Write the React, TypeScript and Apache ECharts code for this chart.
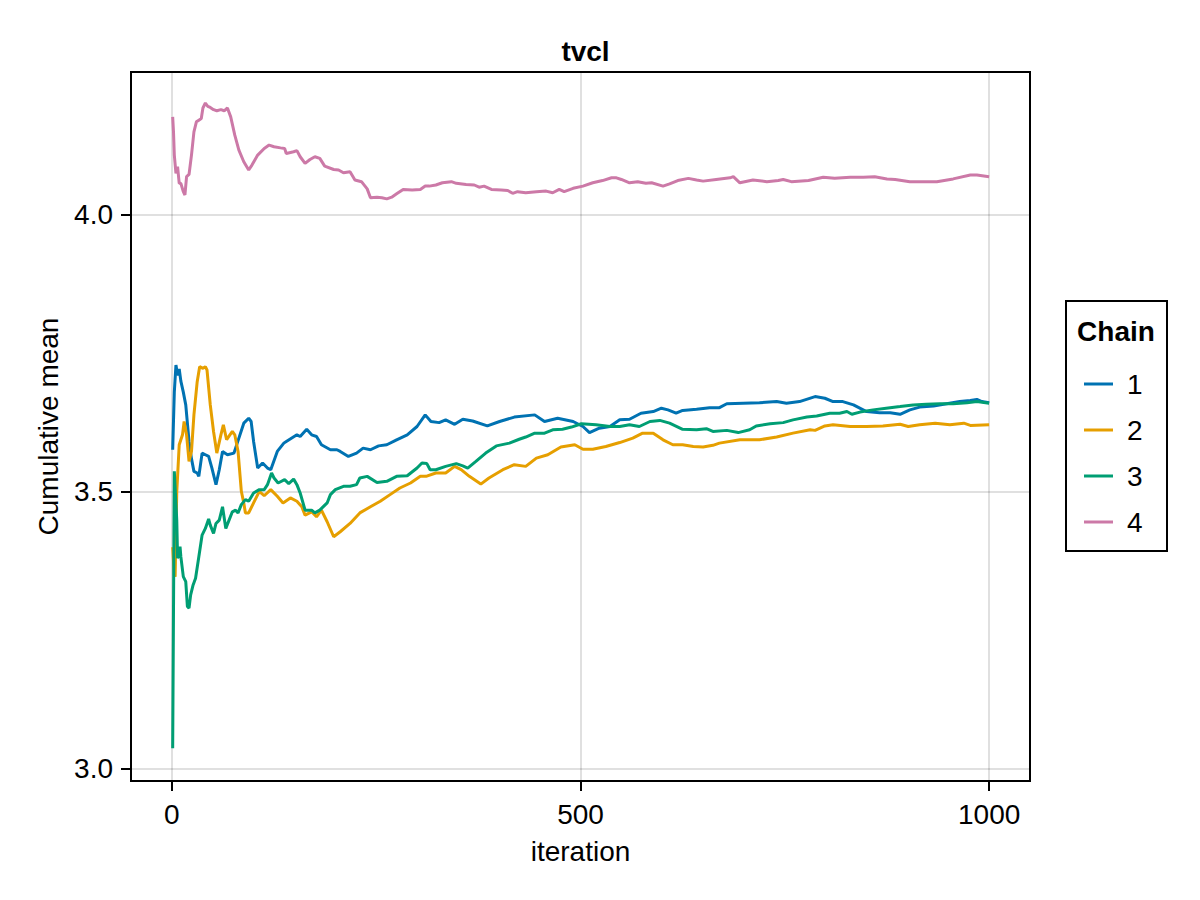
import React, { useEffect, useRef } from 'react'
import * as echarts from 'echarts'

const FONT = '"Liberation Sans", Arial, Helvetica, sans-serif'

const chainNames = ['1', '2', '3', '4']
const chainColors = ['#0072B2', '#E69F00', '#009E73', '#CC79A7']
const xTicks = [0, 500, 1000]
const yTicks = [3.0, 3.5, 4.0]

// [iteration, cumulative mean]
const chain1 = [
  [1, 3.576], [3, 3.68], [5, 3.729], [6, 3.72], [7, 3.722], [8, 3.71], [9, 3.722], [11, 3.70], [14, 3.68],
  [17, 3.657], [21, 3.591], [24, 3.56], [27, 3.537], [31, 3.534], [33, 3.528], [37, 3.570], [41, 3.567],
  [45, 3.564], [49, 3.543], [54, 3.513], [58, 3.540], [62, 3.573], [68, 3.567], [76, 3.570], [80, 3.588],
  [88, 3.624], [94, 3.633], [97, 3.627], [100, 3.591], [105, 3.543], [111, 3.552], [117, 3.543], [121, 3.540],
  [129, 3.573], [137, 3.588], [140, 3.591], [153, 3.603], [157, 3.600], [165, 3.613], [171, 3.603], [177, 3.600],
  [183, 3.585], [194, 3.576], [202, 3.576], [206, 3.573], [216, 3.564], [226, 3.570], [234, 3.579], [243, 3.576],
  [253, 3.583], [263, 3.585], [275, 3.594], [288, 3.603], [300, 3.618], [310, 3.639], [317, 3.627], [327, 3.625],
  [335, 3.630], [346, 3.622], [356, 3.631], [368, 3.628], [386, 3.619], [401, 3.627], [419, 3.635], [444, 3.639],
  [456, 3.627], [472, 3.633], [491, 3.627], [503, 3.618], [511, 3.607], [523, 3.615], [536, 3.618], [548, 3.630],
  [560, 3.631], [574, 3.642], [589, 3.645], [599, 3.651], [607, 3.648], [617, 3.642], [625, 3.647], [642, 3.649],
  [658, 3.652], [670, 3.652], [679, 3.659], [699, 3.660], [719, 3.661], [740, 3.663], [752, 3.660], [768, 3.663],
  [787, 3.672], [799, 3.669], [809, 3.663], [821, 3.663], [834, 3.657], [850, 3.645], [866, 3.643], [879, 3.643],
  [891, 3.640], [903, 3.648], [915, 3.653], [932, 3.655], [948, 3.659], [964, 3.663], [977, 3.665], [985, 3.667],
  [991, 3.663], [1000, 3.661],
]

const chain2 = [
  [1, 3.40], [3, 3.35], [4, 3.347], [6, 3.50], [9, 3.585], [13, 3.603], [15, 3.627], [18, 3.603], [21, 3.555],
  [24, 3.573], [27, 3.639], [31, 3.699], [34, 3.726], [38, 3.723], [41, 3.726], [43, 3.720], [47, 3.657],
  [51, 3.609], [55, 3.570], [60, 3.603], [63, 3.621], [67, 3.594], [71, 3.603], [74, 3.609], [77, 3.603],
  [81, 3.573], [85, 3.501], [88, 3.480], [90, 3.462], [94, 3.462], [100, 3.480], [107, 3.501], [113, 3.493],
  [121, 3.504], [129, 3.492], [136, 3.480], [145, 3.489], [153, 3.483], [159, 3.473], [163, 3.458], [171, 3.464],
  [177, 3.455], [183, 3.467], [190, 3.446], [198, 3.419], [206, 3.428], [218, 3.443], [230, 3.462], [243, 3.473],
  [255, 3.483], [267, 3.495], [279, 3.507], [292, 3.516], [304, 3.528], [311, 3.528], [323, 3.534], [335, 3.534],
  [346, 3.546], [354, 3.540], [364, 3.528], [378, 3.514], [388, 3.525], [405, 3.540], [419, 3.549], [433, 3.546],
  [446, 3.561], [460, 3.567], [476, 3.581], [493, 3.585], [503, 3.577], [515, 3.577], [531, 3.582], [548, 3.589],
  [564, 3.597], [576, 3.606], [589, 3.606], [601, 3.594], [613, 3.585], [625, 3.585], [638, 3.582], [650, 3.581],
  [662, 3.584], [670, 3.588], [695, 3.594], [719, 3.594], [740, 3.599], [760, 3.606], [781, 3.612], [787, 3.611],
  [799, 3.619], [809, 3.621], [830, 3.618], [850, 3.618], [870, 3.619], [891, 3.622], [901, 3.618], [915, 3.621],
  [934, 3.624], [952, 3.621], [969, 3.624], [977, 3.620], [1000, 3.621],
]

const chain3 = [
  [1, 3.037], [3, 3.537], [6, 3.449], [7, 3.380], [10, 3.401], [11, 3.383], [14, 3.347], [17, 3.338], [19, 3.293],
  [21, 3.290], [23, 3.314], [26, 3.332], [29, 3.344], [33, 3.383], [37, 3.422], [41, 3.434], [45, 3.451],
  [47, 3.440], [51, 3.425], [54, 3.443], [58, 3.449], [62, 3.473], [66, 3.434], [70, 3.449], [74, 3.464],
  [78, 3.467], [81, 3.462], [85, 3.477], [90, 3.486], [94, 3.483], [100, 3.498], [107, 3.504], [113, 3.504],
  [117, 3.513], [122, 3.534], [125, 3.525], [130, 3.516], [138, 3.522], [143, 3.515], [149, 3.523], [153, 3.513],
  [157, 3.498], [163, 3.467], [171, 3.467], [175, 3.462], [181, 3.467], [190, 3.480], [194, 3.495], [200, 3.504],
  [210, 3.510], [218, 3.510], [226, 3.513], [230, 3.525], [239, 3.528], [251, 3.517], [263, 3.519], [275, 3.528],
  [288, 3.529], [300, 3.543], [306, 3.552], [312, 3.551], [316, 3.540], [323, 3.540], [335, 3.546], [348, 3.551],
  [356, 3.547], [362, 3.543], [372, 3.555], [384, 3.570], [397, 3.583], [413, 3.588], [425, 3.595], [433, 3.599],
  [444, 3.606], [456, 3.606], [466, 3.612], [478, 3.613], [489, 3.617], [501, 3.623], [519, 3.621], [536, 3.618],
  [548, 3.618], [560, 3.621], [572, 3.618], [585, 3.627], [597, 3.629], [609, 3.624], [625, 3.613], [642, 3.612],
  [654, 3.614], [662, 3.609], [679, 3.611], [693, 3.607], [707, 3.612], [715, 3.619], [732, 3.623], [748, 3.625],
  [760, 3.630], [777, 3.635], [789, 3.637], [805, 3.642], [817, 3.642], [826, 3.645], [832, 3.640], [842, 3.644],
  [858, 3.648], [874, 3.651], [891, 3.654], [907, 3.657], [923, 3.658], [940, 3.659], [956, 3.659], [973, 3.661],
  [985, 3.663], [1000, 3.660],
]

const chain4 = [
  [1, 4.177], [2, 4.150], [3, 4.108], [5, 4.075], [7, 4.087], [9, 4.057], [11, 4.057], [14, 4.042], [16, 4.036],
  [18, 4.069], [21, 4.073], [24, 4.108], [27, 4.150], [30, 4.168], [33, 4.171], [36, 4.174], [38, 4.193],
  [41, 4.202], [44, 4.196], [47, 4.194], [51, 4.190], [55, 4.188], [60, 4.190], [64, 4.188], [68, 4.193],
  [72, 4.177], [77, 4.144], [82, 4.117], [88, 4.096], [94, 4.081], [98, 4.090], [105, 4.108], [113, 4.120],
  [119, 4.126], [125, 4.123], [133, 4.121], [138, 4.120], [140, 4.111], [149, 4.114], [153, 4.116], [157, 4.105],
  [163, 4.093], [169, 4.100], [175, 4.105], [181, 4.102], [187, 4.088], [198, 4.082], [204, 4.081], [210, 4.076],
  [218, 4.078], [224, 4.063], [232, 4.060], [239, 4.047], [243, 4.031], [251, 4.032], [257, 4.031], [263, 4.029],
  [269, 4.032], [275, 4.038], [283, 4.046], [294, 4.045], [304, 4.046], [310, 4.052], [315, 4.052], [323, 4.054],
  [331, 4.058], [342, 4.060], [348, 4.057], [360, 4.055], [370, 4.054], [376, 4.050], [382, 4.052], [391, 4.046],
  [403, 4.045], [411, 4.044], [417, 4.039], [423, 4.042], [433, 4.040], [446, 4.042], [458, 4.043], [466, 4.040],
  [474, 4.046], [480, 4.042], [491, 4.048], [503, 4.052], [515, 4.058], [527, 4.062], [538, 4.067], [544, 4.067],
  [550, 4.064], [560, 4.058], [570, 4.060], [580, 4.057], [587, 4.058], [601, 4.052], [609, 4.056], [619, 4.062],
  [632, 4.066], [642, 4.063], [650, 4.061], [666, 4.064], [683, 4.067], [687, 4.069], [695, 4.058], [711, 4.063],
  [728, 4.060], [742, 4.062], [748, 4.064], [758, 4.060], [779, 4.062], [797, 4.068], [811, 4.066], [830, 4.068],
  [846, 4.068], [860, 4.069], [875, 4.065], [885, 4.064], [903, 4.060], [919, 4.060], [936, 4.060], [956, 4.065],
  [977, 4.072], [985, 4.072], [1000, 4.069],
]

const chains = [chain1, chain2, chain3, chain4]

const App: React.FC = () => {
  const chartRef = useRef<HTMLDivElement | null>(null)

  useEffect(() => {
    document.body.style.margin = '0'
    if (!chartRef.current) return
    const chart = echarts.init(chartRef.current, null, { renderer: 'svg' })

    const axisCommon = {
      axisLine: { show: true, onZero: false, lineStyle: { color: '#000', width: 2 } },
      axisTick: { show: true, length: 10, lineStyle: { color: '#000', width: 2 } },
      splitLine: { show: true, lineStyle: { color: 'rgba(0,0,0,0.12)', width: 2 } },
      nameLocation: 'middle' as const,
      nameTextStyle: { fontSize: 28, color: '#000', fontFamily: FONT },
    }

    chart.setOption({
      animation: false,
      backgroundColor: '#fff',
      title: {
        text: 'tvcl',
        left: 580.5,
        top: 32,
        textAlign: 'center',
        textStyle: { fontSize: 28, fontWeight: 'bold', color: '#000', fontFamily: FONT },
      },
      grid: {
        left: 131, top: 72, width: 899, height: 709,
        show: true, borderColor: '#000', borderWidth: 2, backgroundColor: 'transparent',
      },
      xAxis: {
        ...axisCommon,
        type: 'value',
        min: -50,
        max: 1050,
        name: 'iteration',
        nameGap: 56,
        axisTick: { ...axisCommon.axisTick, customValues: xTicks },
        axisLabel: {
          customValues: xTicks, fontSize: 28, color: '#000', fontFamily: FONT, margin: 19,
          formatter: (v: number) => String(v),
        },
      },
      yAxis: {
        ...axisCommon,
        type: 'value',
        min: 2.978,
        max: 4.258,
        name: 'Cumulative mean',
        nameGap: 69,
        axisTick: { ...axisCommon.axisTick, customValues: yTicks },
        axisLabel: {
          customValues: yTicks, fontSize: 28, color: '#000', fontFamily: FONT, margin: 18,
          formatter: (v: number) => v.toFixed(1),
        },
      },
      legend: {
        orient: 'vertical',
        left: 1079,
        top: 365,
        icon: 'rect',
        itemWidth: 29,
        itemHeight: 3,
        itemGap: 18,
        textStyle: { fontSize: 28, lineHeight: 28, color: '#000', fontFamily: FONT, padding: [0, 0, 0, 9] },
        data: chainNames,
      },
      graphic: [
        {
          type: 'rect',
          shape: { x: 1066, y: 301, width: 101, height: 250 },
          style: { fill: 'transparent', stroke: '#000', lineWidth: 2 },
        },
        {
          type: 'text',
          x: 1116,
          y: 331,
          style: {
            text: 'Chain', fontSize: 28, fontWeight: 'bold', fill: '#000', fontFamily: FONT,
            textAlign: 'center', textVerticalAlign: 'middle',
          },
        },
      ],
      series: chains.map((d, i) => ({
        name: chainNames[i],
        type: 'line',
        data: d,
        showSymbol: false,
        symbol: 'none',
        color: chainColors[i],
        lineStyle: { width: 3, color: chainColors[i] },
      })),
    })

    return () => {
      chart.dispose()
    }
  }, [])

  return <div ref={chartRef} style={{ width: '1200px', height: '900px' }} />
}

export default App
